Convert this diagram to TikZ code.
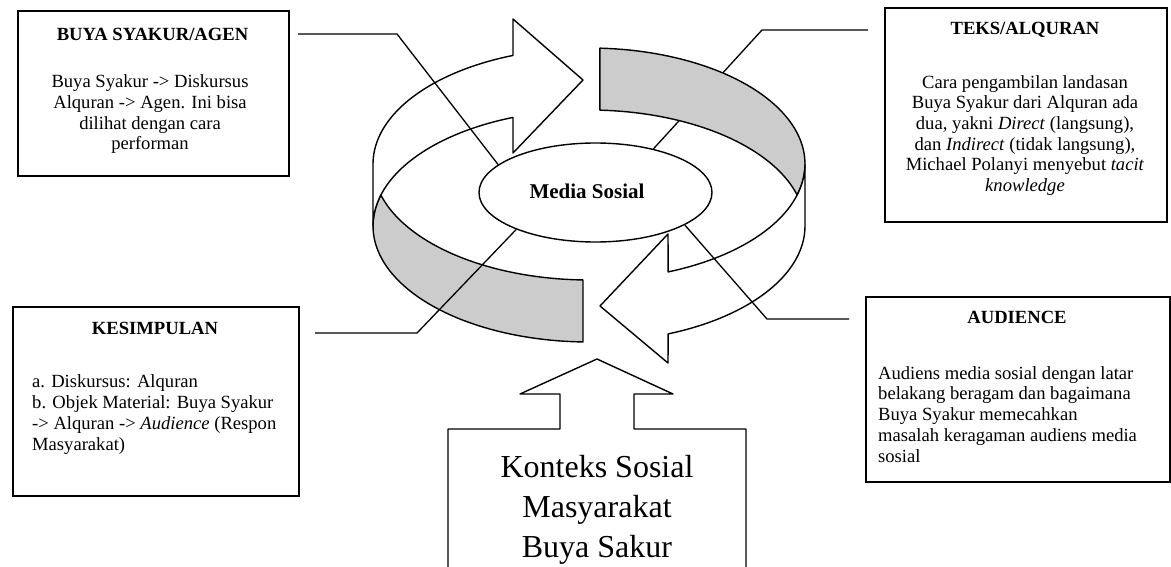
\documentclass[tikz,border=0pt]{standalone}
\usepackage{fontspec}
\setmainfont{Liberation Serif}
\usetikzlibrary{positioning,shapes.geometric}

\begin{document}
\begin{tikzpicture}[x=1pt,y=-1pt,>=latex]

    %
    % Styles for boxes, ring parts and leader lines
    % (multi-line texts sit on the baseline of their last line)
    %
    \tikzstyle{infoBox} = [draw, line width=1.8pt, rectangle, anchor=north west, inner sep=0pt]
    \tikzstyle{boxHead} = [anchor=base, inner sep=0pt, font={\fontsize{18.6}{20.7}\selectfont\bfseries}]
    \tikzstyle{boxText} = [anchor=base, align=center, inner sep=0pt, font={\fontsize{18.6}{20.7}\selectfont}]
    \tikzstyle{boxList} = [boxText, anchor=base west, align=left]
    \tikzstyle{ringPart} = [draw, line width=1.4pt, line join=round, fill=white]
    \tikzstyle{ringShade} = [ringPart, fill=black!20]
    \tikzstyle{leader} = [draw, line width=1.3pt];

    \useasboundingbox (0,0) rectangle (1171,567);

    %
    % Position boxes and the centre
    %
    \node[infoBox, minimum width=271pt, minimum height=165pt] (buya) at (17,10) {};
    \node[boxHead] (buyaHead) at (152.5,41) {BUYA SYAKUR/AGEN};
    \node[boxText] (buyaText) at (150,150) {Buya Syakur -> Diskursus\\Alquran -> Agen. Ini bisa\\dilihat dengan cara\\performan};

    \node[infoBox, minimum width=282pt, minimum height=214pt] (teks) at (884,7) {};
    \node[boxHead] (teksHead) at (1025,35) {TEKS/ALQURAN};
    \node[boxText] (teksText) at (1025,191.5) {Cara pengambilan landasan\\Buya Syakur dari Alquran ada\\dua, yakni \textit{Direct} (langsung),\\dan \textit{Indirect} (tidak langsung),\\Michael Polanyi menyebut \textit{tacit}\\\textit{knowledge}};

    \node[infoBox, minimum width=286pt, minimum height=189pt] (kes) at (12,306) {};
    \node[boxHead] (kesHead) at (155,334) {KESIMPULAN};
    \node[boxList] (kesText) at (32,450) {a. Diskursus: Alquran\\b. Objek Material: Buya Syakur\\-> Alquran -> \textit{Audience} (Respon\\Masyarakat)};

    \node[infoBox, minimum width=304pt, minimum height=185pt] (aud) at (865,296) {};
    \node[boxHead] (audHead) at (1017,323) {AUDIENCE};
    \node[boxList] (audText) at (878,462) {Audiens media sosial dengan latar\\belakang beragam dan bagaimana\\Buya Syakur memecahkan\\masalah keragaman audiens media\\sosial};

    \node[ellipse, draw, line width=1.4pt, fill=white, inner sep=0pt,
          minimum width=233pt, minimum height=99pt] (ms) at (595.5,192.5) {};
    \node[anchor=base, inner sep=0pt, font={\fontsize{21}{24}\selectfont\bfseries}] (msText) at (587,199) {Media Sosial};

    %
    % Ring of arrows round the centre
    %
    \draw[ringShade] plot[domain=164.5:91.6,samples=40] ({589+216*cos(\x)},{164+116*sin(\x)})
      -- plot[domain=91.6:195.5,samples=50] ({589+216*cos(\x)},{226+116*sin(\x)}) -- cycle;
    \draw[ringPart] (373,164) -- plot[domain=180:249.4,samples=40] ({589+216*cos(\x)},{164+116*sin(\x)})
      -- (513,19) -- (583,80) -- (513,153)
      -- plot[domain=249.4:180,samples=40] ({589+216*cos(\x)},{226+116*sin(\x)}) -- cycle;

    \coordinate (teksA) at (868,30);
    \coordinate (teksB) at (762,30);
    \draw[leader] (teksA) -- (teksB) -- (ms.37.7);

    \draw[ringShade] plot[domain=272.9:375.5,samples=50] ({589+216*cos(\x)},{164+116*sin(\x)})
      -- plot[domain=344.5:272.9,samples=40] ({589+216*cos(\x)},{226+116*sin(\x)}) -- cycle;
    \draw[ringPart] plot[domain=0:68.5,samples=40] ({589+216*cos(\x)},{164+116*sin(\x)})
      -- (668,234) -- (600,306) -- (668,363)
      -- plot[domain=68.5:0,samples=40] ({589+216*cos(\x)},{226+116*sin(\x)}) -- cycle;

    %
    % Social context arrow from below
    %
    \draw[ringPart] (448,600) -- (448,429) -- (560,429) -- (560,394) -- (520,394) -- (597,359)
      -- (673,394) -- (634,394) -- (634,429) -- (746,429) -- (746,600);
    \node[anchor=base, align=center, inner sep=0pt, font={\fontsize{32}{40}\selectfont}] (ctx) at (597,557)
      {Konteks Sosial\\Masyarakat\\Buya Sakur};

    %
    % Leader lines from the boxes
    %
    \coordinate (buyaA) at (298,34);
    \coordinate (buyaB) at (397,34);
    \draw[leader] (buyaA) -- (buyaB) -- (ms.164.2);

    \coordinate (kesA) at (315,333);
    \coordinate (kesB) at (417,333);
    \draw[leader] (kesA) -- (kesB) -- (ms.205.5);

    \coordinate (audA) at (849,319);
    \coordinate (audB) at (767,319);
    \draw[leader] (audA) -- (audB) -- (ms.-20.9);
  \end{tikzpicture}
\end{document}
